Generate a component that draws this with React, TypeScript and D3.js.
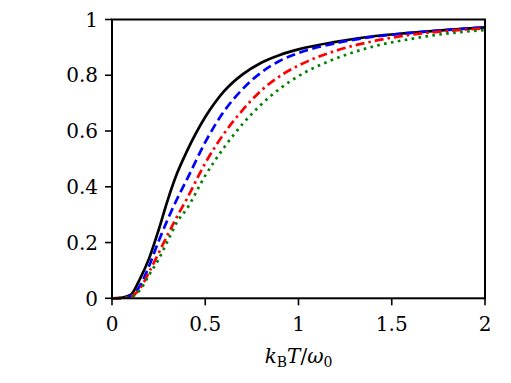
import * as d3 from 'd3'

// temperature grid (k_B T / omega_0)
const temps = [0, 0.05, 0.1, 0.15, 0.2, 0.25, 0.3, 0.35, 0.4, 0.5, 0.6, 0.7, 0.8, 0.9, 1.0, 1.2, 1.4, 1.6, 1.8, 2.0]

// curves
const solidBlack = [0, 0.002, 0.012, 0.07, 0.145, 0.245, 0.355, 0.45, 0.525, 0.65, 0.742, 0.803, 0.845, 0.873, 0.893, 0.92, 0.94, 0.952, 0.963, 0.972]
const dashedBlue = [0, 0.001, 0.008, 0.045, 0.118, 0.205, 0.285, 0.358, 0.424, 0.56, 0.67, 0.75, 0.81, 0.852, 0.88, 0.915, 0.938, 0.952, 0.963, 0.972]
const dashDotRed = [0, 0.001, 0.006, 0.035, 0.095, 0.162, 0.23, 0.295, 0.355, 0.485, 0.59, 0.675, 0.745, 0.797, 0.835, 0.888, 0.922, 0.945, 0.959, 0.968]
const dottedGreen = [0, 0.001, 0.004, 0.03, 0.085, 0.14, 0.208, 0.275, 0.32, 0.44, 0.54, 0.625, 0.695, 0.752, 0.797, 0.86, 0.903, 0.93, 0.95, 0.962]

const xTicks = [0, 0.5, 1, 1.5, 2]
const xTickLabels = ['0', '0.5', '1', '1.5', '2']
const yTicks = [0, 0.2, 0.4, 0.6, 0.8, 1]
const yTickLabels = ['0', '0.2', '0.4', '0.6', '0.8', '1']

const series = [
  { values: solidBlack, color: '#000000', dash: null },
  { values: dashedBlue, color: '#0000ff', dash: '9,4.5' },
  { values: dashDotRed, color: '#ff0000', dash: '9,4,2.5,4' },
  { values: dottedGreen, color: '#008000', dash: '2.6,4.4' },
]

const W = 511
const H = 383
const margin = { top: 19.5, right: 26, bottom: 84.7, left: 112 }
const font = '"DejaVu Serif", serif'

export default function App() {
  const innerW = W - margin.left - margin.right
  const innerH = H - margin.top - margin.bottom

  const x = d3.scaleLinear().domain([0, 2]).range([0, innerW])
  const y = d3.scaleLinear().domain([0, 1]).range([innerH, 0])

  const line = d3.line<number>()
    .x((_, i) => x(temps[i]))
    .y(d => y(d))
    .curve(d3.curveMonotoneX)

  return (
    <svg width={W} height={H} style={{ position: 'absolute', left: 0, top: 0, background: '#fff' }}>
      <g transform={`translate(${margin.left},${margin.top})`}>
        {series.map((s, i) => (
          <path
            key={i}
            d={line(s.values) || ''}
            fill="none"
            stroke={s.color}
            strokeWidth={2.7}
            strokeDasharray={s.dash || undefined}
          />
        ))}

        {/* frame */}
        <rect x={0} y={0} width={innerW} height={innerH} fill="none" stroke="#000" strokeWidth={2} />

        {/* x ticks */}
        {xTicks.map((t, i) => (
          <g key={'x' + i} transform={`translate(${x(t)},${innerH})`}>
            <line y1={0} y2={7} stroke="#000" strokeWidth={1.6} />
            <text y={33} textAnchor="middle" fontFamily={font} fontSize={20}>{xTickLabels[i]}</text>
          </g>
        ))}

        {/* y ticks */}
        {yTicks.map((t, i) => (
          <g key={'y' + i} transform={`translate(0,${y(t)})`}>
            <line x1={0} x2={-7} stroke="#000" strokeWidth={1.6} />
            <text x={-14} dy="0.36em" textAnchor="end" fontFamily={font} fontSize={20}>{yTickLabels[i]}</text>
          </g>
        ))}

        {/* x axis label */}
        <text x={innerW / 2} y={innerH + 65} textAnchor="middle" fontFamily={font} fontSize={20}>
          <tspan fontStyle="italic">k</tspan>
          <tspan fontSize={14} dy={4}>B</tspan>
          <tspan fontStyle="italic" dy={-4}>T</tspan>
          <tspan>/</tspan>
          <tspan fontStyle="italic">ω</tspan>
          <tspan fontSize={14} dy={4}>0</tspan>
        </text>
      </g>
    </svg>
  )
}
